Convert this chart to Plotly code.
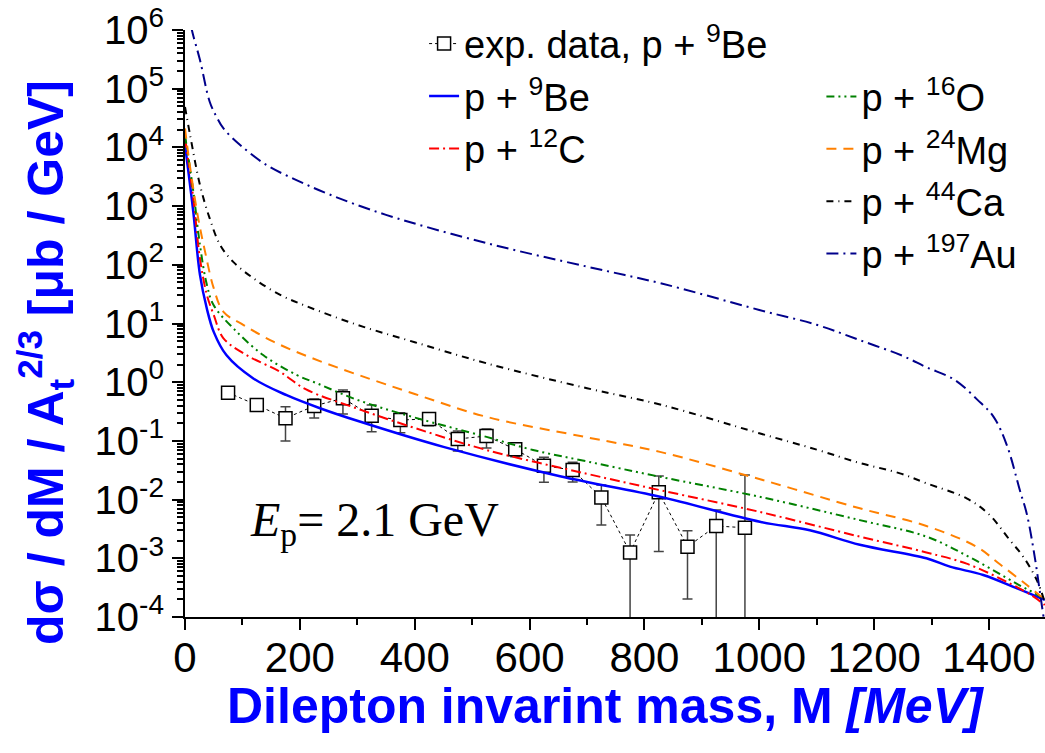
import plotly.graph_objects as go

# ---------------- data ----------------
exp_M = [75, 125, 175, 225, 275, 325, 375, 425, 475, 525, 575, 625, 675, 725, 775, 825, 875, 925, 975]
exp_y = [0.662, 0.409, 0.243, 0.394, 0.532, 0.268, 0.227, 0.236, 0.108, 0.121, 0.072, 0.0378, 0.0319,
         0.0109, 0.00126, 0.0133, 0.00158, 0.00355, 0.00332]
exp_hi = [0.72, 0.45, 0.383, 0.517, 0.736, 0.409, 0.302, 0.298, 0.1475, 0.1595, 0.0885, 0.0526, 0.0432,
          0.0177, 0.00249, 0.0252, 0.00295, 0.00665, 0.0262]
exp_lo = [0.61, 0.37, 0.0995, 0.245, 0.287, 0.1435, 0.138, 0.182, 0.0673, 0.0757, 0.0538, 0.0197, 0.020,
          0.00369, 1e-6, 0.0013, 0.000203, 1e-6, 1e-6]

be_M = [0, 14.5, 26, 38, 50, 72, 119, 177, 235, 300, 450, 653, 827, 1001, 1088, 1175, 1291, 1332, 1390, 1448, 1497]
be_y = [1.1e4, 7.9e2, 68, 18, 7.2, 2.9, 1.16, 0.60, 0.36, 0.22, 0.079, 0.025, 0.0112, 0.0042, 0.0030,
        0.0017, 0.0010, 7.2e-4, 5.2e-4, 3.1e-4, 1.95e-4]

c_M = [0, 14.5, 26, 38, 50, 67, 107, 165, 210, 300, 400, 525, 700, 827, 1000, 1175, 1291, 1361, 1437, 1477, 1497]
c_y = [1.45e4, 1.35e3, 129, 31, 14, 5.6, 2.9, 1.51, 0.76, 0.355, 0.166, 0.070, 0.0275, 0.0145, 0.0062,
       0.00234, 0.00126, 8.1e-4, 3.7e-4, 2.24e-4, 1.6e-4]

o_M = [0, 14.5, 26, 38, 50, 84, 136, 195, 230, 300, 400, 525, 606, 700, 827, 1000, 1175, 1291, 1370, 1448, 1489, 1497]
o_y = [1.6e4, 1.78e3, 219, 46, 20.4, 8.3, 2.9, 1.32, 0.955, 0.50, 0.25, 0.117, 0.070, 0.0447, 0.0245,
       0.0112, 0.00447, 0.00234, 0.001, 3.7e-4, 2.24e-4, 1.9e-4]

mg_M = [0, 9, 23, 35, 50, 67, 102, 154, 220, 300, 400, 525, 700, 827, 1000, 1175, 1291, 1378, 1419, 1466, 1494]
mg_y = [2.1e4, 4.5e3, 617, 166, 40, 15.8, 9.4, 4.9, 2.6, 1.35, 0.63, 0.257, 0.115, 0.065, 0.0224,
        0.0071, 0.00355, 0.00158, 7.9e-4, 3.5e-4, 2.1e-4]

ca_M = [0, 9, 26, 43, 61, 84, 119, 165, 210, 300, 400, 525, 700, 830, 1000, 1100, 1175, 1245, 1291, 1361,
        1400, 1437, 1460, 1483, 1497]
ca_y = [4.9e4, 1.6e4, 2.3e3, 617, 219, 112, 59, 31, 20, 9.5, 4.8, 2.1, 0.79, 0.41, 0.135, 0.071, 0.042,
        0.028, 0.019, 0.0105, 0.0056, 0.002, 0.00105, 4.3e-4, 1.8e-4]

au_M = [11, 14, 26, 43, 55, 67, 96, 142, 195, 250, 350, 525, 700, 830, 1000, 1100, 1175, 1250, 1291, 1340,
        1380, 1408, 1431, 1454, 1466, 1480, 1489, 1495]
au_y = [1.1e6, 8.3e5, 3.1e5, 6.0e4, 3.3e4, 2.1e4, 1.1e4, 5.0e3, 2.75e3, 1.6e3, 710, 234, 93, 48, 17, 9.5,
        5.2, 2.8, 1.8, 1.1, 0.5, 0.257, 0.085, 0.0141, 0.0056, 0.001, 2.5e-4, 1e-4]

y_tickvals = [1e-4, 1e-3, 1e-2, 1e-1, 1e0, 1e1, 1e2, 1e3, 1e4, 1e5, 1e6]
y_ticktext = ["10<sup>-4</sup>", "10<sup>-3</sup>", "10<sup>-2</sup>", "10<sup>-1</sup>", "10<sup>0</sup>",
              "10<sup>1</sup>", "10<sup>2</sup>", "10<sup>3</sup>", "10<sup>4</sup>", "10<sup>5</sup>",
              "10<sup>6</sup>"]
x_tickvals = [0, 200, 400, 600, 800, 1000, 1200, 1400]

FONT = "Liberation Sans, Arial, sans-serif"

fig = go.Figure()

fig.add_trace(go.Scatter(
    x=exp_M, y=exp_y, mode="lines+markers", name="exp. data, p + <sup>9</sup>Be",
    line=dict(color="black", width=1, dash="3px,3px"),
    marker=dict(symbol="square", size=13, color="white", line=dict(color="black", width=1.5)),
    error_y=dict(type="data", symmetric=False,
                 array=[h - v for h, v in zip(exp_hi, exp_y)],
                 arrayminus=[v - l for v, l in zip(exp_y, exp_lo)],
                 color="#444444", thickness=1.5, width=5),
    legend="legend",
))

curves = [
    (be_M, be_y, "p + <sup>9</sup>Be", "#0000ff", "solid", 2.5, "legend"),
    (c_M, c_y, "p + <sup>12</sup>C", "#ff0000", "10px,4px,2px,4px", 2, "legend"),
    (o_M, o_y, "p + <sup>16</sup>O", "#008000", "8px,4px,2px,4px,2px,4px", 2, "legend2"),
    (mg_M, mg_y, "p + <sup>24</sup>Mg", "#ff8000", "10px,7px", 2, "legend2"),
    (ca_M, ca_y, "p + <sup>44</sup>Ca", "#000000", "7px,5px,1px,5px", 2, "legend2"),
    (au_M, au_y, "p + <sup>197</sup>Au", "#00008b", "12px,5px,2px,5px", 2, "legend2"),
]
for xm, yv, nm, col, dash, w, lg in curves:
    fig.add_trace(go.Scatter(x=xm, y=yv, mode="lines", name=nm,
                             line=dict(color=col, dash=dash, width=w, shape="spline", smoothing=1.0),
                             legend=lg))

fig.update_layout(
    width=1045, height=753,
    margin=dict(l=185, r=0, t=30, b=136),
    paper_bgcolor="white", plot_bgcolor="white",
    showlegend=True,
    font=dict(family=FONT, color="black"),
    xaxis=dict(range=[0, 1497.5], tickvals=x_tickvals, ticks="outside", ticklen=11, tickwidth=2,
               tickcolor="black", showline=True, linecolor="black", linewidth=2, showgrid=False,
               zeroline=False, tickfont=dict(family=FONT, size=42, color="black"),
               ticklabelstandoff=-8,
               minor=dict(dtick=100, tick0=0, ticks="outside", ticklen=6, tickwidth=2, tickcolor="black",
                          showgrid=False)),
    yaxis=dict(type="log", range=[-4, 6], tickvals=y_tickvals, ticktext=y_ticktext, ticks="outside",
               ticklen=11, tickwidth=2, tickcolor="black", showline=True, linecolor="black", linewidth=2,
               showgrid=False, zeroline=False, tickfont=dict(family=FONT, size=40, color="black"),
               minor=dict(dtick="D1", ticks="outside", ticklen=6, tickwidth=1.5, tickcolor="black",
                          showgrid=False)),
    legend=dict(x=0.278, y=1.03, xanchor="left", yanchor="top", bgcolor="rgba(0,0,0,0)",
                font=dict(family=FONT, size=38, color="black"), tracegroupgap=0),
    legend2=dict(x=0.74, y=0.94, xanchor="left", yanchor="top", bgcolor="rgba(0,0,0,0)",
                 font=dict(family=FONT, size=38, color="black"), tracegroupgap=0),
    annotations=[
        dict(text="dσ / dM / A<sub>t</sub><sup>2/3</sup> [μb / GeV]", xref="paper", yref="paper",
             x=-0.162, y=0.434, xanchor="center", yanchor="middle", textangle=-90, showarrow=False,
             font=dict(family=FONT, size=50, color="#0000ff", weight="bold")),
        dict(text="Dilepton invarint mass, M <i>[MeV]</i>", xref="paper", yref="paper",
             x=0.49, y=-0.152, xanchor="center", yanchor="middle", showarrow=False,
             font=dict(family=FONT, size=50, color="#0000ff", weight="bold")),
        dict(text="<i>E</i><sub>p</sub>= 2.1 GeV", xref="paper", yref="paper",
             x=0.073, y=0.16, xanchor="left", yanchor="middle", showarrow=False,
             font=dict(family="Liberation Serif, Times New Roman, serif", size=48, color="black")),
    ],
)

fig.write_html("out.html")
